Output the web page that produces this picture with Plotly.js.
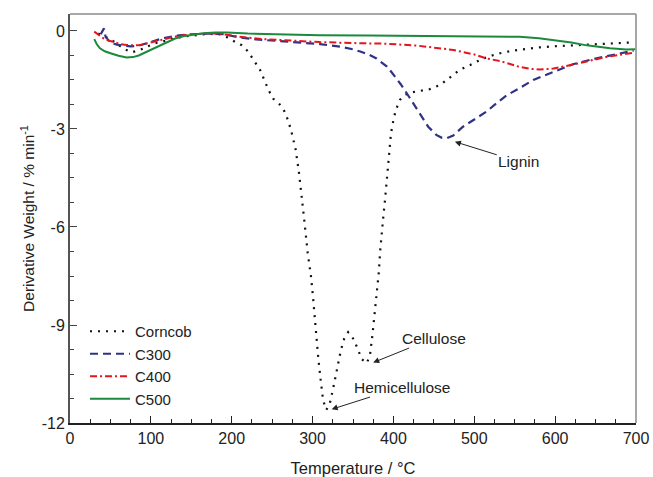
<!DOCTYPE html>
<html>
<head>
<meta charset="utf-8">
<script src="https://cdn.plot.ly/plotly-3.0.1.min.js"></script>
<style>html,body{margin:0;padding:0;background:#fff;}#chart{width:653px;height:477px;}</style>
</head>
<body>
<div id="chart"></div>
<script>
// Temperature (°C) and derivative weight (% min^-1)
const corncobT = [35,42,50,60,68,76,85,95,105,115,125,140,155,170,185,195,204,212,220,228,235,240,245,251,258,265,270,274,279,283,287,290,294,298,300.5,302.6,305,307,310,313,317,321.5,325,328,332,335,339,344,351,356,361,367,371,374,377,380,382,383.5,385.5,387.5,389.6,391.7,393.6,395.7,397,400,403,408,414,420,433,445,458,466,474,482,495,507,519,532,548,565,581,598,622,647,672,695];
const corncobY = [-0.08,-0.15,-0.25,-0.43,-0.56,-0.65,-0.6,-0.48,-0.38,-0.32,-0.25,-0.17,-0.12,-0.09,-0.1,-0.2,-0.33,-0.43,-0.62,-0.92,-1.19,-1.48,-1.78,-2.07,-2.2,-2.45,-2.75,-3.1,-3.62,-4.3,-5.1,-5.85,-6.8,-7.5,-8.13,-8.76,-9.38,-10.0,-10.68,-11.3,-11.6,-11.38,-11.0,-10.6,-10.07,-9.77,-9.43,-9.22,-9.44,-9.76,-10.05,-10.17,-9.92,-9.31,-8.64,-7.98,-7.37,-6.76,-6.09,-5.68,-5.17,-4.61,-4.05,-3.54,-3.13,-2.72,-2.42,-2.11,-1.96,-1.89,-1.83,-1.78,-1.65,-1.5,-1.35,-1.19,-1.04,-0.89,-0.77,-0.68,-0.6,-0.54,-0.5,-0.47,-0.44,-0.4,-0.38,-0.35];

const c300T = [38,42,44,50,58,66,75,85,95,105,115,130,150,170,190,210,230,260,290,309,334,350,359,370,379,386,392,398,404,409,414,423,433,443,453,460,466,474,486,499,515,528,540,556,573,590,598,622,647,672,697];
const c300Y = [-0.1,0.08,-0.18,-0.35,-0.42,-0.45,-0.47,-0.45,-0.38,-0.3,-0.22,-0.15,-0.1,-0.08,-0.1,-0.2,-0.26,-0.31,-0.36,-0.4,-0.48,-0.56,-0.63,-0.73,-0.84,-0.98,-1.09,-1.27,-1.45,-1.63,-1.81,-2.16,-2.52,-2.93,-3.18,-3.27,-3.28,-3.2,-2.93,-2.72,-2.47,-2.2,-1.97,-1.75,-1.5,-1.33,-1.25,-1.02,-0.86,-0.72,-0.6];

const c400T = [30,35,41,48,54,62,70,80,87,95,103,112,120,132,144,160,173,190,210,240,270,309,350,392,430,474,500,515,532,556,570,580,598,615,631,650,664,680,697];
const c400Y = [-0.02,-0.1,-0.22,-0.3,-0.33,-0.4,-0.43,-0.44,-0.43,-0.38,-0.33,-0.27,-0.22,-0.16,-0.12,-0.09,-0.07,-0.1,-0.18,-0.25,-0.29,-0.34,-0.37,-0.39,-0.45,-0.58,-0.72,-0.84,-0.92,-1.1,-1.16,-1.18,-1.15,-1.07,-0.98,-0.87,-0.79,-0.73,-0.67];

const c500T = [30,33,37,43,50,60,70,78,85,92,99,110,120,130,140,152,165,180,194,220,260,309,370,433,500,556,580,598,620,639,655,668,688,699];
const c500Y = [-0.25,-0.4,-0.53,-0.62,-0.68,-0.76,-0.81,-0.8,-0.75,-0.67,-0.58,-0.45,-0.33,-0.23,-0.16,-0.11,-0.07,-0.05,-0.05,-0.08,-0.11,-0.13,-0.14,-0.15,-0.16,-0.18,-0.22,-0.27,-0.35,-0.44,-0.5,-0.53,-0.57,-0.56];

const seriesNames = ['Corncob','C300','C400','C500'];
const xTicks = [0,100,200,300,400,500,600,700];
const yTicks = [0,-3,-6,-9,-12];

const FONT = 'Liberation Sans, Arial, sans-serif';

const traces = [
  {x: corncobT, y: corncobY, name: seriesNames[0], mode: 'lines', line: {color: '#111111', width: 2.2, dash: '2px,6px'}},
  {x: c300T, y: c300Y, name: seriesNames[1], mode: 'lines', line: {color: '#2f3286', width: 2.2, dash: '8px,5px'}},
  {x: c400T, y: c400Y, name: seriesNames[2], mode: 'lines', line: {color: '#e3161d', width: 2, dash: '7px,3px,2px,3px'}},
  {x: c500T, y: c500Y, name: seriesNames[3], mode: 'lines', line: {color: '#1b8a3c', width: 2}}
];

const ann = (text, x, y, ax, ay) => ({
  text: text, x: x, y: y, ax: ax, ay: ay, xref: 'x', yref: 'y', axref: 'x', ayref: 'y',
  showarrow: true, arrowhead: 2, arrowsize: 1.2, arrowwidth: 1, arrowcolor: '#222',
  font: {family: FONT, size: 15.5, color: '#222'}
});

const layout = {
  width: 653, height: 477,
  margin: {l: 70, r: 17, t: 14, b: 54},
  paper_bgcolor: '#ffffff', plot_bgcolor: '#ffffff',
  font: {family: FONT, size: 15, color: '#222'},
  showlegend: true,
  legend: {x: 0.0265, y: 0.264, xanchor: 'left', yanchor: 'top', bgcolor: 'rgba(0,0,0,0)',
           font: {family: FONT, size: 15, color: '#222'}, itemwidth: 40, tracegroupgap: 0},
  xaxis: {
    range: [0, 700], tickvals: xTicks, ticktext: xTicks.map(String),
    ticks: 'inside', ticklen: 7, tickwidth: 1, tickcolor: '#222',
    minor: {dtick: 25, ticks: 'inside', ticklen: 4, tickwidth: 1, tickcolor: '#222'},
    showline: true, linecolor: '#222', linewidth: 1.5, mirror: false, showgrid: false, zeroline: false,
    tickfont: {family: FONT, size: 16, color: '#222'},
    title: {text: 'Temperature / °C', font: {family: FONT, size: 16.5, color: '#222'}, standoff: 16}
  },
  yaxis: {
    range: [-12, 0.52], tickvals: yTicks, ticktext: yTicks.map(String),
    ticks: 'inside', ticklen: 7, tickwidth: 1, tickcolor: '#444',
    minor: {tickvals: [-0.75,-1.5,-2.25,-3.75,-4.5,-5.25,-6.75,-7.5,-8.25,-9.75,-10.5,-11.25], ticks: 'inside', ticklen: 4, tickwidth: 1, tickcolor: '#444'},
    showline: true, linecolor: '#555', linewidth: 2, mirror: false, showgrid: false, zeroline: false,
    tickfont: {family: FONT, size: 16, color: '#222'},
    title: {text: 'Derivative Weight / % min<sup>-1</sup>', font: {family: FONT, size: 15.5, color: '#222'}, standoff: 3}
  },
  shapes: [
    {type: 'line', xref: 'paper', yref: 'paper', x0: 0, x1: 1, y0: 1, y1: 1, line: {color: '#8a8a8a', width: 1.5}},
    {type: 'line', xref: 'paper', yref: 'paper', x0: 1, x1: 1, y0: 0, y1: 1, line: {color: '#8a8a8a', width: 1.5}}
  ],
  annotations: [
    ann('Lignin', 476, -3.39, 555, -4.0),
    ann('Cellulose', 375, -10.15, 450, -9.4),
    ann('Hemicellulose', 323.6, -11.58, 410, -10.9)
  ]
};

Plotly.newPlot('chart', traces, layout, {displayModeBar: false, staticPlot: true});
</script>
</body>
</html>
